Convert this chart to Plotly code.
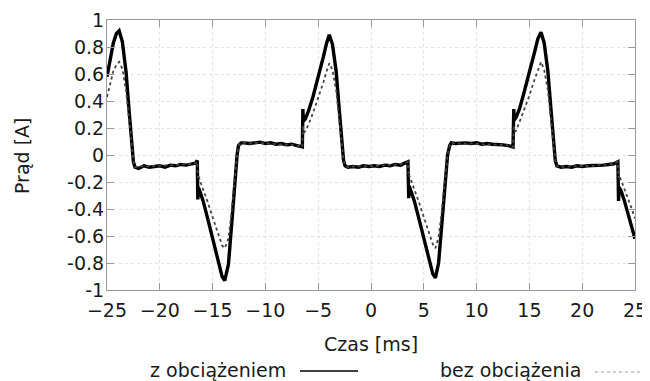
import plotly.graph_objects as go

# Time axis [ms]
czas = [
    -25.0, -24.7, -24.4, -24.1, -23.85, -23.55, -23.2, -22.9, -22.7, -22.5, -22.35,
    -22.0, -21.5, -21.0, -20.5, -20.0, -19.5, -19.0, -18.5, -18.0, -17.5, -17.0, -16.6, -16.45,
    -16.4, -16.35, -16.2, -15.9, -15.5, -15.0, -14.5, -14.1, -13.85, -13.5, -13.2, -12.9, -12.68, -12.55, -12.3,
    -12.0, -11.5, -11.0, -10.5, -10.0, -9.5, -9.0, -8.5, -8.0, -7.5, -7.0, -6.6, -6.5,
    -6.45, -6.4, -6.2, -5.9, -5.5, -5.0, -4.5, -4.2, -3.95, -3.65, -3.3, -3.0, -2.8, -2.6, -2.45,
    -2.2, -1.7, -1.2, -0.7, -0.2, 0.3, 0.8, 1.3, 1.8, 2.3, 2.8, 3.2, 3.5,
    3.57, 3.62, 3.8, 4.1, 4.5, 5.0, 5.5, 5.85, 6.1, 6.4, 6.7, 7.0, 7.25, 7.45, 7.6,
    8.0, 8.5, 9.0, 9.5, 10.0, 10.5, 11.0, 11.5, 12.0, 12.5, 13.0, 13.45,
    13.52, 13.57, 13.75, 14.05, 14.45, 14.95, 15.45, 15.8, 16.1, 16.4, 16.75, 17.05, 17.25, 17.45, 17.6,
    18.0, 18.5, 19.0, 19.5, 20.0, 20.5, 21.0, 21.5, 22.0, 22.5, 23.0, 23.38,
    23.44, 23.5, 23.7, 24.0, 24.4, 24.7, 25.0,
]

# Current with load [A]
z_obciazeniem = [
    0.58, 0.71, 0.83, 0.90, 0.92, 0.84, 0.62, 0.32, 0.12, -0.05, -0.09,
    -0.10, -0.08, -0.09, -0.085, -0.08, -0.09, -0.075, -0.08, -0.07, -0.075, -0.065, -0.06, -0.04,
    -0.33, -0.24, -0.27, -0.34, -0.46, -0.62, -0.78, -0.90, -0.93, -0.81, -0.52, -0.20, 0.0, 0.07, 0.09,
    0.09, 0.085, 0.09, 0.095, 0.085, 0.09, 0.08, 0.085, 0.075, 0.08, 0.07, 0.065, 0.06,
    0.34, 0.25, 0.27, 0.33, 0.43, 0.57, 0.73, 0.83, 0.89, 0.82, 0.62, 0.33, 0.12, -0.04, -0.08,
    -0.09, -0.085, -0.09, -0.08, -0.085, -0.08, -0.085, -0.075, -0.08, -0.07, -0.075, -0.06, -0.05,
    -0.32, -0.23, -0.27, -0.34, -0.46, -0.62, -0.78, -0.88, -0.91, -0.80, -0.52, -0.20, 0.0, 0.07, 0.09,
    0.085, 0.09, 0.09, 0.085, 0.09, 0.08, 0.085, 0.08, 0.08, 0.075, 0.07, 0.06,
    0.34, 0.26, 0.28, 0.34, 0.45, 0.59, 0.75, 0.86, 0.91, 0.83, 0.62, 0.33, 0.12, -0.04, -0.08,
    -0.09, -0.085, -0.09, -0.08, -0.085, -0.08, -0.08, -0.075, -0.075, -0.07, -0.065, -0.05,
    -0.34, -0.24, -0.27, -0.34, -0.45, -0.53, -0.62,
]

# Current without load [A]
bez_obciazenia = [
    0.43, 0.53, 0.62, 0.67, 0.69, 0.64, 0.48, 0.26, 0.10, -0.04, -0.09,
    -0.09, -0.08, -0.085, -0.08, -0.08, -0.08, -0.075, -0.075, -0.07, -0.07, -0.065, -0.06, -0.05,
    -0.17, -0.15, -0.19, -0.25, -0.34, -0.46, -0.58, -0.67, -0.69, -0.62, -0.42, -0.16, 0.0, 0.07, 0.09,
    0.09, 0.085, 0.09, 0.09, 0.085, 0.085, 0.08, 0.08, 0.075, 0.075, 0.07, 0.065, 0.06,
    0.22, 0.16, 0.18, 0.23, 0.31, 0.42, 0.54, 0.62, 0.68, 0.63, 0.48, 0.26, 0.10, -0.04, -0.08,
    -0.09, -0.085, -0.085, -0.08, -0.08, -0.08, -0.08, -0.075, -0.075, -0.07, -0.07, -0.06, -0.05,
    -0.16, -0.15, -0.19, -0.25, -0.34, -0.46, -0.58, -0.66, -0.69, -0.61, -0.42, -0.16, 0.0, 0.07, 0.09,
    0.085, 0.085, 0.09, 0.085, 0.085, 0.08, 0.08, 0.08, 0.075, 0.075, 0.07, 0.06,
    0.22, 0.17, 0.18, 0.24, 0.32, 0.43, 0.55, 0.63, 0.69, 0.63, 0.48, 0.26, 0.10, -0.04, -0.08,
    -0.09, -0.085, -0.085, -0.08, -0.08, -0.08, -0.08, -0.075, -0.075, -0.07, -0.065, -0.05,
    -0.17, -0.15, -0.19, -0.25, -0.34, -0.40, -0.47,
]

x_ticks = [-25, -20, -15, -10, -5, 0, 5, 10, 15, 20, 25]
y_ticks = [-1, -0.8, -0.6, -0.4, -0.2, 0, 0.2, 0.4, 0.6, 0.8, 1]
y_tick_labels = ["-1", "-0.8", "-0.6", "-0.4", "-0.2", "0", "0.2", "0.4", "0.6", "0.8", "1"]

FONT = "DejaVu Sans"
TXT = "#1a1a1a"
FS = 19

# The page body has an 8px default margin: the figure starts at (8, 8) in the window.
OFF = 8
W, H = 650 - OFF, 381 - OFF

fig = go.Figure()
fig.add_trace(go.Scatter(x=czas, y=z_obciazeniem, mode="lines", name="z obciążeniem",
                         line=dict(color="black", width=3.4)))
fig.add_trace(go.Scatter(x=czas, y=bez_obciazenia, mode="lines", name="bez obciążenia",
                         line=dict(color="#444444", width=1.8, dash="dot")))

axis_common = dict(
    showline=True, linecolor="#999999", linewidth=1, mirror="allticks",
    ticks="inside", ticklen=7, tickcolor="#999999", automargin=False,
    showgrid=True, gridcolor="#e2e2e2", griddash="dot", gridwidth=1,
    zeroline=False, tickfont=dict(family=FONT, size=FS, color=TXT),
)

# plot area in window pixels (from the reference)
plot_l, plot_r, plot_t, plot_b = 107, 635, 20, 290
pw, ph = plot_r - plot_l, plot_b - plot_t


def px(x):
    return (x - plot_l) / pw


def py(y):
    return (plot_b - y) / ph


def ann(text, x, y, **kw):
    d = dict(text=text, x=px(x), y=py(y), xref="paper", yref="paper",
             showarrow=False, xanchor="center", yanchor="middle",
             font=dict(family=FONT, size=FS, color=TXT))
    d.update(kw)
    return d


fig.update_layout(
    width=W, height=H,
    margin=dict(l=plot_l - OFF, r=650 - plot_r, t=plot_t - OFF, b=381 - plot_b, autoexpand=False),
    paper_bgcolor="white", plot_bgcolor="white",
    showlegend=False,
    font=dict(family=FONT, size=FS, color=TXT),
    xaxis=dict(range=[-25, 25], tickvals=x_ticks, ticklabelstandoff=3, **axis_common),
    yaxis=dict(range=[-1, 1], tickvals=y_ticks, ticktext=y_tick_labels, ticklabelstandoff=-2, **axis_common),
    annotations=[
        ann("Czas [ms]", 371, 344),
        ann("Prąd [A]", 22, 156, textangle=-90),
        ann("z obciążeniem", 288, 370, xanchor="right"),
        ann("bez obciążenia", 583, 370, xanchor="right"),
    ],
)

# Legend samples (gnuplot-style, sample after the text)
fig.add_shape(type="line", xref="paper", yref="paper",
              x0=px(300), x1=px(358), y0=py(371), y1=py(371),
              line=dict(color="black", width=1.5))
fig.add_shape(type="line", xref="paper", yref="paper",
              x0=px(595), x1=px(649), y0=py(372), y1=py(372),
              line=dict(color="#999999", width=1.2, dash="dot"))

fig.write_html("out.html")
